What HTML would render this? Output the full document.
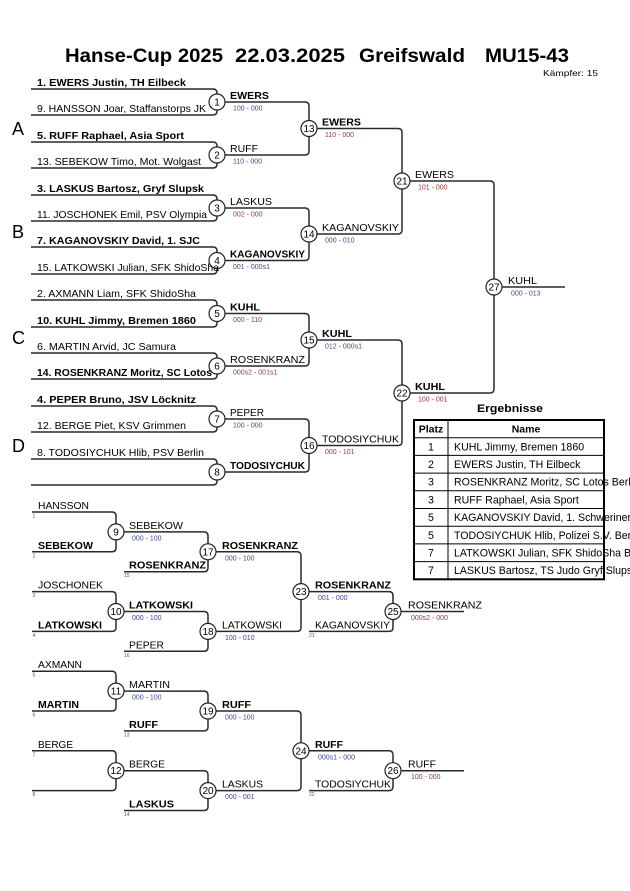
<!DOCTYPE html>
<html><head><meta charset="utf-8"><style>
html,body{margin:0;padding:0;background:#fff;}
svg{display:block;}
text{font-family:"Liberation Sans",Arial,sans-serif;}
.n{font-size:10.5px;fill:#000;}
.b{font-size:10.5px;font-weight:bold;fill:#000;}
.tn{font-size:10.6px;fill:#000;}
.s{font-size:7px;}
.sb{fill:#3b4a8f;}
.sr{fill:#8f3b3b;}
.c{font-size:10px;text-anchor:middle;fill:#000;}
.t{font-size:5px;fill:#555;}
.g{font-size:18px;fill:#000;}
</style></head><body>
<svg width="630" height="891" viewBox="0 0 630 891" xmlns="http://www.w3.org/2000/svg">
<!-- title -->
<g font-weight="bold" font-size="19">
<text x="65" y="62" textLength="158" lengthAdjust="spacingAndGlyphs">Hanse-Cup 2025</text>
<text x="235" y="62" textLength="110" lengthAdjust="spacingAndGlyphs">22.03.2025</text>
<text x="359" y="62" textLength="106" lengthAdjust="spacingAndGlyphs">Greifswald</text>
<text x="485" y="62" textLength="84" lengthAdjust="spacingAndGlyphs">MU15-43</text>
</g>
<text x="543" y="76" font-size="8" textLength="55" lengthAdjust="spacingAndGlyphs">Kämpfer: 15</text>

<!-- group letters -->
<text class="g" x="12" y="135">A</text>
<text class="g" x="12" y="238">B</text>
<text class="g" x="12" y="344">C</text>
<text class="g" x="12" y="452">D</text>

<g fill="none" stroke="#2a2a2a" stroke-width="1.5">
<!-- main round 1 -->
<path d="M31 89 H213 Q217 89 217 93 V94"/>
<path d="M31 115 H213 Q217 115 217 111 V110"/>
<path d="M31 142 H213 Q217 142 217 146 V147"/>
<path d="M31 168 H213 Q217 168 217 164 V163"/>
<path d="M31 195 H213 Q217 195 217 199 V200"/>
<path d="M31 221 H213 Q217 221 217 217 V216"/>
<path d="M31 247 H213 Q217 247 217 251 V252.5"/>
<path d="M31 274 H213 Q217 274 217 270 V268.5"/>
<path d="M31 300 H213 Q217 300 217 304 V305.5"/>
<path d="M31 327 H213 Q217 327 217 323 V321.5"/>
<path d="M31 353 H213 Q217 353 217 357 V358"/>
<path d="M31 379 H213 Q217 379 217 375 V374"/>
<path d="M31 406 H213 Q217 406 217 410 V411"/>
<path d="M31 432 H213 Q217 432 217 428 V427"/>
<path d="M31 459 H213 Q217 459 217 463 V464"/>
<path d="M31 485 H213 Q217 485 217 481 V480"/>
<!-- main round 2 -->
<path d="M225 102 H305 Q309 102 309 106 V120.5"/>
<path d="M225 155 H305 Q309 155 309 151 V136.5"/>
<path d="M225 208 H305 Q309 208 309 212 V226"/>
<path d="M225 260.5 H305 Q309 260.5 309 256.5 V242"/>
<path d="M225 313.5 H305 Q309 313.5 309 317.5 V332"/>
<path d="M225 366 H305 Q309 366 309 362 V348"/>
<path d="M225 419 H305 Q309 419 309 423 V437.5"/>
<path d="M225 472 H305 Q309 472 309 468 V453.5"/>
<!-- main round 3 -->
<path d="M317 128.5 H398 Q402 128.5 402 132.5 V173"/>
<path d="M317 234 H398 Q402 234 402 230 V189"/>
<path d="M317 340 H398 Q402 340 402 344 V385"/>
<path d="M317 445.5 H398 Q402 445.5 402 441.5 V401"/>
<!-- final -->
<path d="M410 181 H490 Q494 181 494 185 V279"/>
<path d="M410 393 H490 Q494 393 494 389 V295"/>
<path d="M502 287 H565"/>

<!-- repechage col1 -->
<path d="M32 512 H112 Q116 512 116 516 V523.9"/>
<path d="M32 551.8 H112 Q116 551.8 116 547.8 V539.9"/>
<path d="M32 591.6 H112 Q116 591.6 116 595.6 V603.5"/>
<path d="M32 631.4 H112 Q116 631.4 116 627.4 V619.5"/>
<path d="M32 671.2 H112 Q116 671.2 116 675.2 V683.1"/>
<path d="M32 711 H112 Q116 711 116 707 V699.1"/>
<path d="M32 750.8 H112 Q116 750.8 116 754.8 V762.7"/>
<path d="M32 790.6 H112 Q116 790.6 116 786.6 V778.7"/>
<!-- col2 -->
<path d="M124 531.9 H204 Q208 531.9 208 535.9 V543.8"/>
<path d="M124 571.7 H204 Q208 571.7 208 567.7 V559.8"/>
<path d="M124 611.5 H204 Q208 611.5 208 615.5 V623.4"/>
<path d="M124 651.3 H204 Q208 651.3 208 647.3 V639.4"/>
<path d="M124 691.1 H204 Q208 691.1 208 695.1 V703"/>
<path d="M124 730.9 H204 Q208 730.9 208 726.9 V719"/>
<path d="M124 770.7 H204 Q208 770.7 208 774.7 V782.6"/>
<path d="M124 810.5 H204 Q208 810.5 208 806.5 V798.6"/>
<!-- col3 -->
<path d="M216 551.8 H297 Q301 551.8 301 555.8 V583.6"/>
<path d="M216 631.4 H297 Q301 631.4 301 627.4 V599.6"/>
<path d="M216 711 H297 Q301 711 301 715 V742.8"/>
<path d="M216 790.6 H297 Q301 790.6 301 786.6 V758.8"/>
<!-- col4 -->
<path d="M309 591.6 H389 Q393 591.6 393 595.6 V603.5"/>
<path d="M309 631.4 H389 Q393 631.4 393 627.4 V619.5"/>
<path d="M309 750.8 H389 Q393 750.8 393 754.8 V762.7"/>
<path d="M309 790.6 H389 Q393 790.6 393 786.6 V778.7"/>
<path d="M401 611.5 H464"/>
<path d="M401 770.7 H464"/>
</g>

<!-- circles -->
<g fill="#fff" stroke="#222" stroke-width="1.2">
<circle cx="217" cy="102" r="8"/><circle cx="217" cy="155" r="8"/>
<circle cx="217" cy="208" r="8"/><circle cx="217" cy="260.5" r="8"/>
<circle cx="217" cy="313.5" r="8"/><circle cx="217" cy="366" r="8"/>
<circle cx="217" cy="419" r="8"/><circle cx="217" cy="472" r="8"/>
<circle cx="309" cy="128.5" r="8"/><circle cx="309" cy="234" r="8"/>
<circle cx="309" cy="340" r="8"/><circle cx="309" cy="445.5" r="8"/>
<circle cx="402" cy="181" r="8"/><circle cx="402" cy="393" r="8"/>
<circle cx="494" cy="287" r="8"/>
<circle cx="116" cy="531.9" r="8"/><circle cx="116" cy="611.5" r="8"/>
<circle cx="116" cy="691.1" r="8"/><circle cx="116" cy="770.7" r="8"/>
<circle cx="208" cy="551.8" r="8"/><circle cx="208" cy="631.4" r="8"/>
<circle cx="208" cy="711" r="8"/><circle cx="208" cy="790.6" r="8"/>
<circle cx="301" cy="591.6" r="8"/><circle cx="301" cy="750.8" r="8"/>
<circle cx="393" cy="611.5" r="8"/><circle cx="393" cy="770.7" r="8"/>
</g>
<g>
<text class="c" x="217" y="105.5">1</text><text class="c" x="217" y="158.5">2</text>
<text class="c" x="217" y="211.5">3</text><text class="c" x="217" y="264">4</text>
<text class="c" x="217" y="317">5</text><text class="c" x="217" y="369.5">6</text>
<text class="c" x="217" y="422.5">7</text><text class="c" x="217" y="475.5">8</text>
<text class="c" x="309" y="132">13</text><text class="c" x="309" y="237.5">14</text>
<text class="c" x="309" y="343.5">15</text><text class="c" x="309" y="449">16</text>
<text class="c" x="402" y="184.5">21</text><text class="c" x="402" y="396.5">22</text>
<text class="c" x="494" y="290.5">27</text>
<text class="c" x="116" y="535.4">9</text><text class="c" x="116" y="615">10</text>
<text class="c" x="116" y="694.6">11</text><text class="c" x="116" y="774.2">12</text>
<text class="c" x="208" y="555.3">17</text><text class="c" x="208" y="634.9">18</text>
<text class="c" x="208" y="714.5">19</text><text class="c" x="208" y="794.1">20</text>
<text class="c" x="301" y="595.1">23</text><text class="c" x="301" y="754.3">24</text>
<text class="c" x="393" y="615">25</text><text class="c" x="393" y="774.2">26</text>
</g>

<!-- entries -->
<text class="b" x="37" y="86" textLength="149" lengthAdjust="spacingAndGlyphs">1. EWERS Justin, TH Eilbeck</text>
<text class="n" x="37" y="112" textLength="169" lengthAdjust="spacingAndGlyphs">9. HANSSON Joar, Staffanstorps JK</text>
<text class="b" x="37" y="139" textLength="147" lengthAdjust="spacingAndGlyphs">5. RUFF Raphael, Asia Sport</text>
<text class="n" x="37" y="165" textLength="164" lengthAdjust="spacingAndGlyphs">13. SEBEKOW Timo, Mot. Wolgast</text>
<text class="b" x="37" y="192" textLength="167" lengthAdjust="spacingAndGlyphs">3. LASKUS Bartosz, Gryf Slupsk</text>
<text class="n" x="37" y="218" textLength="170" lengthAdjust="spacingAndGlyphs">11. JOSCHONEK Emil, PSV Olympia</text>
<text class="b" x="37" y="244" textLength="163" lengthAdjust="spacingAndGlyphs">7. KAGANOVSKIY David, 1. SJC</text>
<text class="n" x="37" y="271" textLength="182" lengthAdjust="spacingAndGlyphs">15. LATKOWSKI Julian, SFK ShidoSha</text>
<text class="n" x="37" y="297" textLength="159" lengthAdjust="spacingAndGlyphs">2. AXMANN Liam, SFK ShidoSha</text>
<text class="b" x="37" y="324" textLength="159" lengthAdjust="spacingAndGlyphs">10. KUHL Jimmy, Bremen 1860</text>
<text class="n" x="37" y="350" textLength="139" lengthAdjust="spacingAndGlyphs">6. MARTIN Arvid, JC Samura</text>
<text class="b" x="37" y="376" textLength="175" lengthAdjust="spacingAndGlyphs">14. ROSENKRANZ Moritz, SC Lotos</text>
<text class="b" x="37" y="403" textLength="159" lengthAdjust="spacingAndGlyphs">4. PEPER Bruno, JSV Löcknitz</text>
<text class="n" x="37" y="429" textLength="149" lengthAdjust="spacingAndGlyphs">12. BERGE Piet, KSV Grimmen</text>
<text class="n" x="37" y="456" textLength="167" lengthAdjust="spacingAndGlyphs">8. TODOSIYCHUK Hlib, PSV Berlin</text>

<!-- round 2 labels -->
<text class="b" x="230" y="99" textLength="39" lengthAdjust="spacingAndGlyphs">EWERS</text>
<text class="s sb" x="233" y="110.5">100 - 000</text>
<text class="n" x="230" y="152" textLength="28" lengthAdjust="spacingAndGlyphs">RUFF</text>
<text class="s sb" x="233" y="163.5">110 - 000</text>
<text class="n" x="230" y="205" textLength="42" lengthAdjust="spacingAndGlyphs">LASKUS</text>
<text class="s sr" x="233" y="216.5">002 - 000</text>
<text class="b" x="230" y="257.5" textLength="75" lengthAdjust="spacingAndGlyphs">KAGANOVSKIY</text>
<text class="s sb" x="233" y="269">001 - 000s1</text>
<text class="b" x="230" y="310.5" textLength="30" lengthAdjust="spacingAndGlyphs">KUHL</text>
<text class="s sr" x="233" y="322">000 - 110</text>
<text class="n" x="230" y="363" textLength="75" lengthAdjust="spacingAndGlyphs">ROSENKRANZ</text>
<text class="s sr" x="233" y="374.5">000s2 - 001s1</text>
<text class="n" x="230" y="416" textLength="34" lengthAdjust="spacingAndGlyphs">PEPER</text>
<text class="s sb" x="233" y="427.5">100 - 000</text>
<text class="b" x="230" y="469" textLength="75" lengthAdjust="spacingAndGlyphs">TODOSIYCHUK</text>

<!-- round 3 labels -->
<text class="b" x="322" y="125.5" textLength="39" lengthAdjust="spacingAndGlyphs">EWERS</text>
<text class="s sr" x="325" y="137">110 - 000</text>
<text class="n" x="322" y="231" textLength="77" lengthAdjust="spacingAndGlyphs">KAGANOVSKIY</text>
<text class="s sb" x="325" y="242.5">000 - 010</text>
<text class="b" x="322" y="337" textLength="30" lengthAdjust="spacingAndGlyphs">KUHL</text>
<text class="s sb" x="325" y="348.5">012 - 000s1</text>
<text class="n" x="322" y="442.5" textLength="77" lengthAdjust="spacingAndGlyphs">TODOSIYCHUK</text>
<text class="s sr" x="325" y="454">000 - 101</text>

<!-- round 4 -->
<text class="n" x="415" y="178" textLength="39" lengthAdjust="spacingAndGlyphs">EWERS</text>
<text class="s sr" x="418" y="189.5">101 - 000</text>
<text class="b" x="415" y="390" textLength="30" lengthAdjust="spacingAndGlyphs">KUHL</text>
<text class="s sr" x="418" y="401.5">100 - 001</text>
<text class="n" x="508" y="284" textLength="29" lengthAdjust="spacingAndGlyphs">KUHL</text>
<text class="s sb" x="511" y="295.5">000 - 013</text>

<!-- results table -->
<text x="477" y="412" font-size="11" font-weight="bold" textLength="66" lengthAdjust="spacingAndGlyphs">Ergebnisse</text>
<g stroke="#000" fill="none">
<g stroke-width="1">
<line x1="414" y1="437.7" x2="604" y2="437.7"/>
<line x1="414" y1="455.4" x2="604" y2="455.4"/>
<line x1="414" y1="473.1" x2="604" y2="473.1"/>
<line x1="414" y1="490.8" x2="604" y2="490.8"/>
<line x1="414" y1="508.5" x2="604" y2="508.5"/>
<line x1="414" y1="526.2" x2="604" y2="526.2"/>
<line x1="414" y1="543.9" x2="604" y2="543.9"/>
<line x1="414" y1="561.6" x2="604" y2="561.6"/>
<line x1="448" y1="420" x2="448" y2="579.3"/>
</g>
<rect x="414" y="420" width="190" height="159.3" stroke-width="2"/>
</g>
<text class="b" x="431" y="432.6" text-anchor="middle">Platz</text>
<text class="b" x="526" y="432.6" text-anchor="middle">Name</text>
<g>
<text class="tn" x="431" y="450.3" text-anchor="middle">1</text>
<text class="tn" x="431" y="468" text-anchor="middle">2</text>
<text class="tn" x="431" y="485.7" text-anchor="middle">3</text>
<text class="tn" x="431" y="503.4" text-anchor="middle">3</text>
<text class="tn" x="431" y="521.1" text-anchor="middle">5</text>
<text class="tn" x="431" y="538.8" text-anchor="middle">5</text>
<text class="tn" x="431" y="556.5" text-anchor="middle">7</text>
<text class="tn" x="431" y="574.2" text-anchor="middle">7</text>
<text class="tn" x="454" y="450.3">KUHL Jimmy, Bremen 1860</text>
<text class="tn" x="454" y="468">EWERS Justin, TH Eilbeck</text>
<text class="tn" x="454" y="485.7">ROSENKRANZ Moritz, SC Lotos Berlin</text>
<text class="tn" x="454" y="503.4">RUFF Raphael, Asia Sport</text>
<text class="tn" x="454" y="521.1">KAGANOVSKIY David, 1. Schweriner JC</text>
<text class="tn" x="454" y="538.8">TODOSIYCHUK Hlib, Polizei S.V. Berlin</text>
<text class="tn" x="454" y="556.5">LATKOWSKI Julian, SFK ShidoSha Berlin</text>
<text class="tn" x="454" y="574.2">LASKUS Bartosz, TS Judo Gryf Slupsk</text>
</g>

<!-- repechage col1 -->
<text class="n" x="38" y="509" textLength="51" lengthAdjust="spacingAndGlyphs">HANSSON</text>
<text class="b" x="38" y="548.8" textLength="55" lengthAdjust="spacingAndGlyphs">SEBEKOW</text>
<text class="n" x="38" y="588.6" textLength="65" lengthAdjust="spacingAndGlyphs">JOSCHONEK</text>
<text class="b" x="38" y="628.4" textLength="64" lengthAdjust="spacingAndGlyphs">LATKOWSKI</text>
<text class="n" x="38" y="668.2" textLength="44" lengthAdjust="spacingAndGlyphs">AXMANN</text>
<text class="b" x="38" y="708" textLength="41" lengthAdjust="spacingAndGlyphs">MARTIN</text>
<text class="n" x="38" y="747.8" textLength="35" lengthAdjust="spacingAndGlyphs">BERGE</text>
<text class="t" x="32.5" y="517.5">1</text>
<text class="t" x="32.5" y="557.3">2</text>
<text class="t" x="32.5" y="597.1">3</text>
<text class="t" x="32.5" y="636.9">4</text>
<text class="t" x="32.5" y="676.7">5</text>
<text class="t" x="32.5" y="716.5">6</text>
<text class="t" x="32.5" y="756.3">7</text>
<text class="t" x="32.5" y="796.1">8</text>

<!-- col2 -->
<text class="n" x="129" y="528.9" textLength="54" lengthAdjust="spacingAndGlyphs">SEBEKOW</text>
<text class="s sb" x="132" y="540.4">000 - 100</text>
<text class="b" x="129" y="568.7" textLength="77" lengthAdjust="spacingAndGlyphs">ROSENKRANZ</text>
<text class="t" x="124" y="577.2">15</text>
<text class="b" x="129" y="608.5" textLength="64" lengthAdjust="spacingAndGlyphs">LATKOWSKI</text>
<text class="s sb" x="132" y="620">000 - 100</text>
<text class="n" x="129" y="648.3" textLength="35" lengthAdjust="spacingAndGlyphs">PEPER</text>
<text class="t" x="124" y="656.8">16</text>
<text class="n" x="129" y="688.1" textLength="41" lengthAdjust="spacingAndGlyphs">MARTIN</text>
<text class="s sb" x="132" y="699.6">000 - 100</text>
<text class="b" x="129" y="727.9" textLength="29" lengthAdjust="spacingAndGlyphs">RUFF</text>
<text class="t" x="124" y="736.4">13</text>
<text class="n" x="129" y="767.7" textLength="36" lengthAdjust="spacingAndGlyphs">BERGE</text>
<text class="b" x="129" y="807.5" textLength="45" lengthAdjust="spacingAndGlyphs">LASKUS</text>
<text class="t" x="124" y="816">14</text>

<!-- col3 -->
<text class="b" x="222" y="548.8" textLength="76" lengthAdjust="spacingAndGlyphs">ROSENKRANZ</text>
<text class="s sb" x="225" y="560.3">000 - 100</text>
<text class="n" x="222" y="628.4" textLength="60" lengthAdjust="spacingAndGlyphs">LATKOWSKI</text>
<text class="s sb" x="225" y="639.9">100 - 010</text>
<text class="b" x="222" y="708" textLength="29" lengthAdjust="spacingAndGlyphs">RUFF</text>
<text class="s sb" x="225" y="719.5">000 - 100</text>
<text class="n" x="222" y="787.6" textLength="41" lengthAdjust="spacingAndGlyphs">LASKUS</text>
<text class="s sb" x="225" y="799.1">000 - 001</text>

<!-- col4 -->
<text class="b" x="315" y="588.6" textLength="76" lengthAdjust="spacingAndGlyphs">ROSENKRANZ</text>
<text class="s sb" x="318" y="600.1">001 - 000</text>
<text class="n" x="315" y="628.4" textLength="75" lengthAdjust="spacingAndGlyphs">KAGANOVSKIY</text>
<text class="t" x="309" y="636.9">21</text>
<text class="b" x="315" y="747.8" textLength="28" lengthAdjust="spacingAndGlyphs">RUFF</text>
<text class="s sb" x="318" y="759.3">000s1 - 000</text>
<text class="n" x="315" y="787.6" textLength="76" lengthAdjust="spacingAndGlyphs">TODOSIYCHUK</text>
<text class="t" x="309" y="796.1">22</text>

<!-- col5 -->
<text class="n" x="408" y="608.5" textLength="74" lengthAdjust="spacingAndGlyphs">ROSENKRANZ</text>
<text class="s sr" x="411" y="620">000s2 - 000</text>
<text class="n" x="408" y="767.7" textLength="28" lengthAdjust="spacingAndGlyphs">RUFF</text>
<text class="s sr" x="411" y="779.2">100 - 000</text>
</svg>
</body></html>
